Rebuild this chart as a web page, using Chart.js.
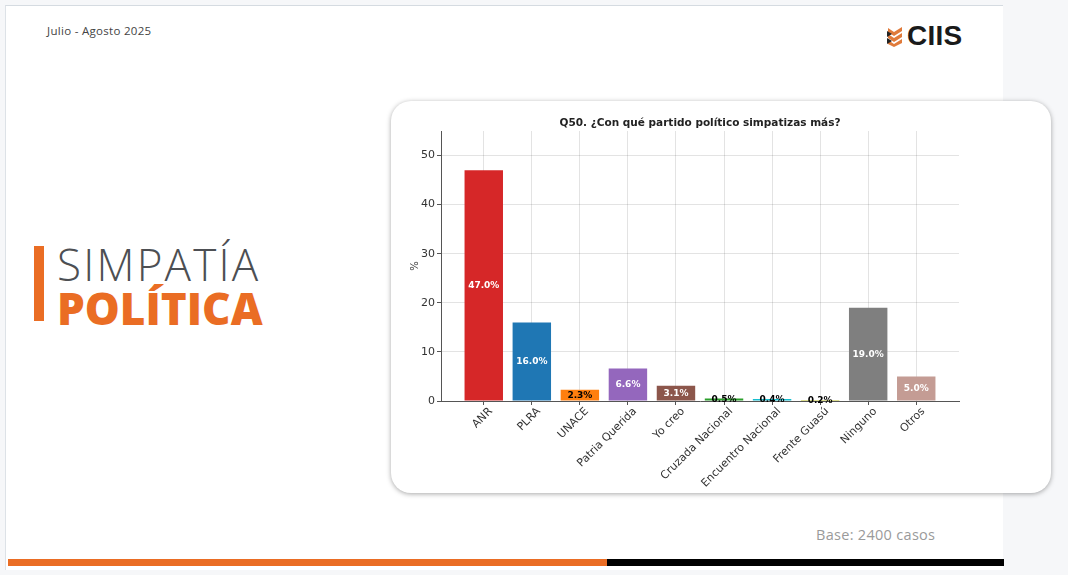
<!DOCTYPE html>
<html lang="es">
<head>
<meta charset="utf-8">
<title>Simpatía política</title>
<script src="https://cdn.jsdelivr.net/npm/chart.js@4.4.1/dist/chart.umd.min.js"></script>
<style>
  html, body { margin: 0; padding: 0; }
  body { width: 1068px; height: 575px; background: #f6f7f9; position: relative; overflow: hidden; font-family: "Open Sans", sans-serif; }
  .slide { position: absolute; left: 5px; top: 5px; width: 998px; height: 565px; background: #fff; border-top: 1px solid #d5dbe1; border-left: 1px solid #dde2e7; box-sizing: border-box; }
  .date { position: absolute; left: 41px; top: 17px; font-size: 11.5px; color: #444; letter-spacing: 0.3px; }
  .logo { position: absolute; left: 880px; top: 14px; display: flex; align-items: center; }
  .logo span { font-family: "Liberation Sans", sans-serif; font-weight: bold; font-size: 28px; color: #1a1a1a; letter-spacing: 0.2px; margin-left: 3px; }
  .accent { position: absolute; left: 28px; top: 240px; width: 10px; height: 75px; background: #ea6d24; }
  .title1 { position: absolute; left: 51px; top: 228px; font-size: 44px; font-weight: 300; color: #4d4f53; letter-spacing: 2.2px; }
  .title2 { position: absolute; left: 51px; top: 272px; font-size: 44px; font-weight: 800; color: #ea6d24; letter-spacing: 0px; }
  .card { position: absolute; left: 385px; top: 95px; width: 660px; height: 392px; background: #fff; border-radius: 20px; box-shadow: 0 1px 5px rgba(0,0,0,0.35); }
  .card canvas { position: absolute; left: 0; top: 0; }
  .base { position: absolute; left: 810px; top: 519px; font-size: 14.5px; color: #9a9a9a; letter-spacing: 0.3px; }
  .bar-o { position: absolute; left: 2px; top: 553px; width: 599px; height: 7px; background: #ea6d24; }
  .bar-k { position: absolute; left: 601px; top: 553px; width: 397px; height: 7px; background: #000; }
</style>
</head>
<body>
<div class="slide">
  <div class="date">Julio - Agosto 2025</div>
  <div class="logo">
    <svg width="18" height="22" viewBox="0 0 18 22">
      <path d="M2 3 L8 7 L16 2 L16 6 L8 11 L2 7 Z" fill="#e07a3a"/>
      <path d="M2 9 L8 13 L16 8 L16 12 L8 17 L2 13 Z" fill="#e07a3a"/>
      <path d="M2 15 L8 19 L16 14 L16 18 L8 22 L2 19 Z" fill="#e07a3a"/>
      <path d="M1 6 L6 9 L1 12 Z" fill="#222"/>
      <path d="M1 13 L6 16 L1 19 Z" fill="#222"/>
    </svg>
    <span>CIIS</span>
  </div>
  <div class="accent"></div>
  <div class="title1">SIMPATÍA</div>
  <div class="title2">POLÍTICA</div>
  <div class="card"><canvas id="chart" width="660" height="392"></canvas></div>
  <div class="base">Base: 2400 casos</div>
  <div class="bar-o"></div>
  <div class="bar-k"></div>
</div>

<script>
// Party names and share (%)
const parties = ["ANR", "PLRA", "UNACE", "Patria Querida", "Yo creo", "Cruzada Nacional", "Encuentro Nacional", "Frente Guasú", "Ninguno", "Otros"];
const shares = [47.0, 16.0, 2.3, 6.6, 3.1, 0.5, 0.4, 0.2, 19.0, 5.0];
const barColors = ["#d62728", "#1f77b4", "#ff7f0e", "#9467bd", "#8c564b", "#2ca02c", "#17becf", "#bcbd22", "#7f7f7f", "#c49c94"];
const yTicks = [0, 10, 20, 30, 40, 50];
const chartTitle = "Q50. ¿Con qué partido político simpatizas más?";

const gridColor = "rgba(0,0,0,0.11)";
const axisColor = "#555";
const tickFont = { family: "DejaVu Sans", size: 11 };

// Title centred over the plot area, plus the percent label in the middle of each bar
const barLabels = {
    id: "barLabels",
    afterDraw(chart) {
        const ctx = chart.ctx;
        const area = chart.chartArea;
        const x = chart.scales.x;
        const y = chart.scales.y;
        ctx.save();
        ctx.textAlign = "center";
        ctx.textBaseline = "middle";
        ctx.fillStyle = "#222";
        ctx.font = "bold 10.5px 'DejaVu Sans'";
        ctx.fillText(chartTitle, (area.left + area.right) / 2, 22);

        ctx.font = "bold 9px 'DejaVu Sans'";
        shares.forEach((v, i) => {
            ctx.fillStyle = v >= 3 ? "#fff" : "#000";
            ctx.fillText(v.toFixed(1) + "%", x.getPixelForValue(i), y.getPixelForValue(v / 2));
        });
        ctx.restore();
    }
};

const ctx = document.getElementById("chart").getContext("2d");
new Chart(ctx, {
    type: "bar",
    data: {
        datasets: [{
            data: shares.map((v, i) => ({ x: i, y: v })),
            backgroundColor: barColors,
            borderWidth: 0,
            barPercentage: 0.8,
            categoryPercentage: 1.0
        }]
    },
    options: {
        responsive: false,
        animation: false,
        layout: { padding: { left: 18, right: 92, top: 30, bottom: 0 } },
        plugins: {
            legend: { display: false },
            tooltip: { enabled: false }
        },
        scales: {
            x: {
                type: "linear",
                min: -0.89,
                max: 9.89,
                offset: false,
                z: 1,
                afterFit: s => { s.height = 92; },
                ticks: {
                    stepSize: 1,
                    includeBounds: false,
                    autoSkip: false,
                    minRotation: 45,
                    maxRotation: 45,
                    labelOffset: 7,
                    color: "#333",
                    font: tickFont,
                    padding: 0,
                    callback: v => parties[v]
                },
                grid: { offset: false, color: gridColor, tickColor: axisColor, tickLength: 4 },
                border: { color: axisColor, width: 1 }
            },
            y: {
                min: 0,
                max: 55,
                z: 1,
                afterFit: s => { s.width = 32; },
                afterBuildTicks: s => { s.ticks = yTicks.map(v => ({ value: v })); },
                ticks: { color: "#333", font: tickFont, padding: 2 },
                grid: { color: gridColor, tickColor: axisColor, tickLength: 4 },
                border: { color: axisColor, width: 1 },
                title: {
                    display: true,
                    text: "%",
                    color: "#333",
                    font: { family: "DejaVu Sans", size: 10 },
                    padding: 0
                }
            }
        }
    },
    plugins: [barLabels]
});
</script>
</body>
</html>
